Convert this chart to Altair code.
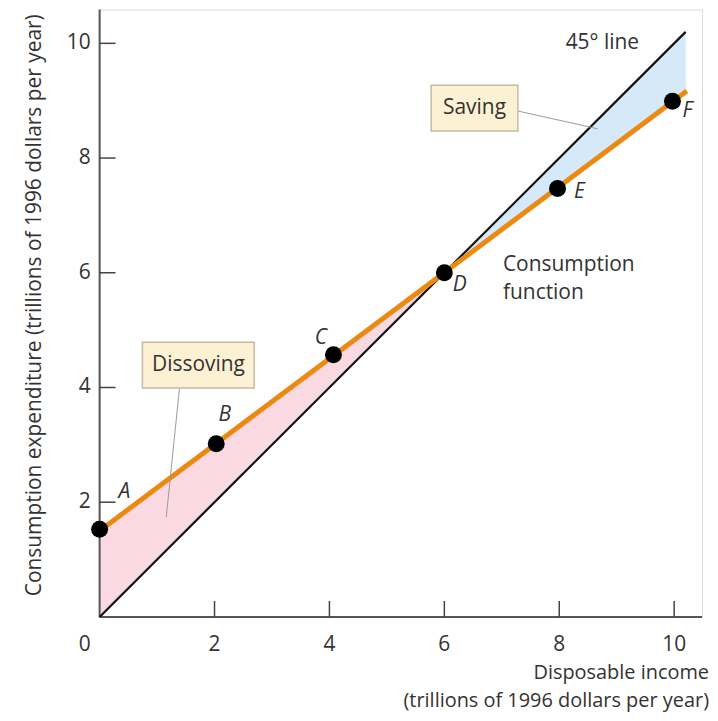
import altair as alt
import pandas as pd

# ---- data ----
names = ["A", "B", "C", "D", "E", "F"]
income = [0, 2.03, 4.07, 6.0, 7.97, 9.97]
consumption = [1.53, 3.02, 4.57, 6.0, 7.47, 8.99]
label_x = [0.43, 2.18, 3.85, 6.27, 8.35, 10.23]
label_y = [2.17, 3.52, 4.86, 5.78, 7.40, 8.82]

line45_x = [0, 10.2]
line45_y = [0, 10.2]
cons_x = [0, 10.22]
cons_y = [1.5, 9.17]

dis_x = [0, 6]
dis_top = [1.5, 6]
dis_bot = [0, 6]
sav_x = [6, 10.2]
sav_top = [6, 10.2]
sav_bot = [6, 9.15]

ticks = [2, 4, 6, 8, 10]
tick_labels = ["2", "4", "6", "8", "10"]

x_max = 10.485
y_max = 10.59

# annotation boxes
box_text = ["Saving", "Dissoving"]
box_x1 = [5.77, 0.745]
box_x2 = [7.28, 2.69]
box_y1 = [8.47, 3.99]
box_y2 = [9.27, 4.79]
box_tx = [6.525, 1.72]
box_ty = [8.87, 4.39]
# leader lines
lead_x1 = [7.28, 1.39]
lead_y1 = [8.82, 3.99]
lead_x2 = [8.67, 1.16]
lead_y2 = [8.51, 1.74]

FONT = "Open Sans"
FS = 21
TXT = "#333333"

xs = alt.Scale(domain=[0, x_max], nice=False, zero=False)
ys = alt.Scale(domain=[0, y_max], nice=False, zero=False)

def X(f):
    return alt.X(f, type="quantitative", scale=xs, axis=None)

def Y(f):
    return alt.Y(f, type="quantitative", scale=ys, axis=None)

pts = pd.DataFrame({"name": names, "x": income, "y": consumption, "lx": label_x, "ly": label_y})
l45 = pd.DataFrame({"x": line45_x, "y": line45_y})
cons = pd.DataFrame({"x": cons_x, "y": cons_y})
dis = pd.DataFrame({"x": dis_x, "top": dis_top, "bot": dis_bot})
sav = pd.DataFrame({"x": sav_x, "top": sav_top, "bot": sav_bot})
tk = pd.DataFrame({"v": ticks, "t": tick_labels})
boxes = pd.DataFrame({"t": box_text, "x1": box_x1, "x2": box_x2, "y1": box_y1, "y2": box_y2,
                      "tx": box_tx, "ty": box_ty})
leads = pd.DataFrame({"x1": lead_x1, "y1": lead_y1, "x2": lead_x2, "y2": lead_y2})
axes = pd.DataFrame({"x1": [0, 0], "x2": [x_max, 0], "y1": [0, 0], "y2": [0, y_max]})

dis_area = alt.Chart(dis).mark_area(color="#fad9e2", opacity=1).encode(
    x=X("x"), y=Y("top"), y2="bot")
sav_area = alt.Chart(sav).mark_area(color="#d5e9f8", opacity=1).encode(
    x=X("x"), y=Y("top"), y2="bot")

line45 = alt.Chart(l45).mark_line(color="#111111", strokeWidth=2.2).encode(x=X("x"), y=Y("y"))
cline = alt.Chart(cons).mark_line(color="#ea8a10", strokeWidth=5).encode(x=X("x"), y=Y("y"))

axis_lines = alt.Chart(axes).mark_rule(color="#555555", strokeWidth=2).encode(
    x=X("x1"), x2="x2", y=Y("y1"), y2="y2")

xt = alt.Chart(tk).mark_rule(color="#444444", strokeWidth=1.5).encode(
    x=X("v"), y=alt.value(610), y2=alt.value(594))
yt = alt.Chart(tk).mark_rule(color="#444444", strokeWidth=1.5).encode(
    y=Y("v"), x=alt.value(0), x2=alt.value(16))

xl = alt.Chart(tk).mark_text(font=FONT, fontSize=FS, color=TXT, baseline="middle").encode(
    x=X("v"), y=alt.value(638), text="t:N")
yl = alt.Chart(tk).mark_text(font=FONT, fontSize=FS, color=TXT, baseline="middle", align="right",
                             dx=-9).encode(y=Y("v"), x=alt.value(0), text="t:N")
zero = alt.Chart(pd.DataFrame({"t": ["0"]})).mark_text(
    font=FONT, fontSize=FS, color=TXT, baseline="middle").encode(
    x=alt.value(-15), y=alt.value(638), text="t:N")

rects = alt.Chart(boxes).mark_rect(fill="#fdf1d3", stroke="#c3bba6", strokeWidth=1.5).encode(
    x=X("x1"), x2="x2", y=Y("y1"), y2="y2")
rect_text = alt.Chart(boxes).mark_text(font=FONT, fontSize=FS, color=TXT, baseline="middle").encode(
    x=X("tx"), y=Y("ty"), text="t:N")
lead_lines = alt.Chart(leads).mark_rule(color="#9a9a9a", strokeWidth=1).encode(
    x=X("x1"), x2="x2", y=Y("y1"), y2="y2")

dots = alt.Chart(pts).mark_circle(color="#000000", size=290, opacity=1).encode(x=X("x"), y=Y("y"))
dot_labels = alt.Chart(pts).mark_text(font=FONT, fontSize=FS, fontStyle="italic", color=TXT,
                                      baseline="middle").encode(x=X("lx"), y=Y("ly"), text="name:N")

notes = pd.DataFrame({"t": ["45° line", "Consumption", "function"],
                      "x": [8.75, 7.02, 7.02], "y": [10.0, 6.13, 5.64]})
note45 = alt.Chart(notes.iloc[[0]]).mark_text(font=FONT, fontSize=FS, color=TXT, baseline="middle").encode(
    x=X("x"), y=Y("y"), text="t:N")
note_cf = alt.Chart(notes.iloc[[1, 2]]).mark_text(font=FONT, fontSize=FS, color=TXT, baseline="middle",
                                                  align="left").encode(x=X("x"), y=Y("y"), text="t:N")

ytitle = alt.Chart(pd.DataFrame({"t": ["Consumption expenditure (trillions of 1996 dollars per year)"]})).mark_text(
    font=FONT, fontSize=FS, color=TXT, angle=270, baseline="middle").encode(
    x=alt.value(-65), y=alt.value(297), text="t:N")
xtitle = alt.Chart(pd.DataFrame({"t": ["Disposable income", "(trillions of 1996 dollars per year)"],
                                 "py": [666, 694]})).mark_text(
    font=FONT, fontSize=20, color=TXT, align="right", baseline="middle").encode(
    x=alt.value(612), y=alt.Y("py:Q", scale=None), text="t:N")

chart = alt.layer(
    dis_area, sav_area, axis_lines, xt, yt, line45, cline, lead_lines, rects, rect_text,
    dots, dot_labels, xl, yl, zero, note45, note_cf, ytitle, xtitle
).properties(
    width=605, height=610,
    autosize=alt.AutoSizeParams(type="none"),
    padding={"left": 92, "top": 0, "right": 8, "bottom": 95},
).configure_view(stroke=None).configure(background="white")

chart.save("out.html", embed_options={"renderer": "svg", "actions": False})
